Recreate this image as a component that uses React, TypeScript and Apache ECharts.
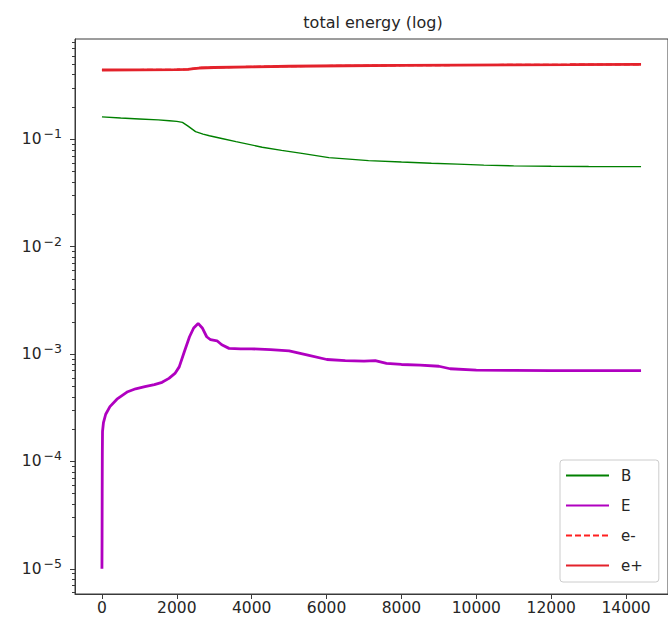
import React, { useEffect, useRef } from "react";
import * as echarts from "echarts";

// ---- data ----
const xTicks = [0, 2000, 4000, 6000, 8000, 10000, 12000, 14000];
const yMajorTicks = [1e-5, 1e-4, 1e-3, 1e-2, 1e-1];
const yMajorExponents = ["5", "4", "3", "2", "1"];
const yMinorMultipliers = [2, 3, 4, 5, 6, 7, 8, 9];
const yMinorDecades = [1e-6, 1e-5, 1e-4, 1e-3, 1e-2, 1e-1];

const bSteps = [0, 500, 1000, 1500, 1800, 2000, 2150, 2300, 2500, 2700, 2870, 3200, 3580, 4280, 4800, 5340, 6060, 6600, 7120, 8000, 8800, 9500, 10200, 11000, 12000, 13000, 14400];
const bValues = [0.162, 0.158, 0.155, 0.152, 0.149, 0.147, 0.144, 0.133, 0.118, 0.112, 0.108, 0.102, 0.0953, 0.0845, 0.079, 0.074, 0.0676, 0.0655, 0.0634, 0.0615, 0.060, 0.0588, 0.0575, 0.0566, 0.0561, 0.0558, 0.0557];

const eSteps = [0, 3, 6, 10, 15, 40, 100, 213, 400, 688, 900, 1147, 1400, 1606, 1789, 1950, 2064, 2200, 2339, 2450, 2569, 2680, 2798, 2900, 3073, 3200, 3394, 3700, 3991, 4500, 5000, 5500, 6009, 6500, 7000, 7300, 7600, 8000, 8500, 9000, 9300, 10000, 11000, 12000, 13000, 14400];
const eValues = [1.0e-5, 2.0e-5, 5.0e-5, 1.2e-4, 1.9e-4, 2.3e-4, 2.75e-4, 3.24e-4, 3.8e-4, 4.46e-4, 4.75e-4, 4.97e-4, 5.2e-4, 5.46e-4, 5.94e-4, 6.6e-4, 7.6e-4, 1.05e-3, 1.45e-3, 1.75e-3, 1.93e-3, 1.75e-3, 1.45e-3, 1.36e-3, 1.33e-3, 1.22e-3, 1.13e-3, 1.12e-3, 1.12e-3, 1.1e-3, 1.07e-3, 9.8e-4, 8.9e-4, 8.7e-4, 8.6e-4, 8.7e-4, 8.2e-4, 8.0e-4, 7.9e-4, 7.7e-4, 7.3e-4, 7.1e-4, 7.05e-4, 7.0e-4, 7.0e-4, 7.0e-4];

const eMinusSteps = [0, 1000, 2000, 2300, 2450, 2600, 3000, 4000, 5000, 6500, 8000, 9500, 11000, 12500, 14400];
const eMinusValues = [0.443, 0.444, 0.446, 0.449, 0.456, 0.463, 0.468, 0.475, 0.480, 0.485, 0.489, 0.492, 0.495, 0.497, 0.499];

const ePlusSteps = [0, 1000, 2000, 2300, 2450, 2600, 3000, 4000, 5000, 6500, 8000, 9500, 11000, 12500, 14400];
const ePlusValues = [0.443, 0.444, 0.446, 0.448, 0.455, 0.462, 0.467, 0.474, 0.480, 0.485, 0.489, 0.492, 0.495, 0.497, 0.500];

const FONT = "DejaVu Sans";
const TEXT = "#262626";
const FRAME = "#3a3a3a";
const TICK_FONT = 15.5;

export default function App() {
  const ref = useRef<HTMLDivElement>(null);

  useEffect(() => {
    if (!ref.current) return;
    const chart = echarts.init(ref.current, null, { renderer: "svg" });

    const yMin = Math.pow(10, -5.235);
    const yMax = Math.pow(10, -0.065);
    const minorTicks: number[] = [];
    yMinorDecades.forEach((d) =>
      yMinorMultipliers.forEach((m) => {
        const v = d * m;
        if (v > yMin && v < yMax) minorTicks.push(v);
      })
    );

    const pairs = (xs: number[], ys: number[]) => xs.map((x, i) => [x, ys[i]]);

    const labelFor = (v: number) => {
      for (let i = 0; i < yMajorTicks.length; i++) {
        if (Math.abs(Math.log10(v) - Math.log10(yMajorTicks[i])) < 1e-6)
          return "{a|10}{b|\u2212" + yMajorExponents[i] + "}";
      }
      return "";
    };

    chart.setOption({
      animation: false,
      backgroundColor: "#ffffff",
      graphic: [
        {
          type: "text",
          x: 373,
          y: 22,
          style: {
            text: "total energy (log)",
            fontFamily: FONT,
            fontSize: 16,
            fill: TEXT,
            textAlign: "center",
            textVerticalAlign: "middle",
          },
        },
      ],
      grid: {
        left: 75,
        right: -3,
        top: 39,
        bottom: 39,
        show: true,
        borderColor: FRAME,
        borderWidth: 1,
        backgroundColor: "transparent",
      },
      legend: {
        orient: "vertical",
        left: 560,
        top: 460,
        itemWidth: 43,
        itemHeight: 16,
        itemGap: 15,
        padding: [8, 16, 9, 5],
        borderColor: "#cccccc",
        borderWidth: 1,
        borderRadius: 3,
        backgroundColor: "rgba(255,255,255,0.8)",
        itemStyle: { opacity: 0 },
        textStyle: { fontFamily: FONT, fontSize: 15, color: TEXT, padding: [0, 0, 0, 7] },
        data: ["B", "E", "e-", "e+"],
      },
      xAxis: {
        type: "value",
        min: -720,
        max: 15120,
        splitLine: { show: false },
        axisLine: { show: true, onZero: false, lineStyle: { color: FRAME, width: 1 } },
        axisTick: { show: true, customValues: xTicks, length: 5, lineStyle: { color: FRAME, width: 1 } },
        axisLabel: {
          customValues: xTicks,
          formatter: (v: number) => String(v),
          fontFamily: FONT,
          fontSize: TICK_FONT,
          color: TEXT,
          margin: 6,
        },
      },
      yAxis: [
        {
          type: "log",
          logBase: 10,
          min: yMin,
          max: yMax,
          position: "left",
          splitLine: { show: false },
          axisLine: { show: true, onZero: false, lineStyle: { color: FRAME, width: 1 } },
          axisTick: { show: true, customValues: yMajorTicks, length: 5, lineStyle: { color: FRAME, width: 1 } },
          axisLabel: {
            customValues: yMajorTicks,
            formatter: (v: number) => labelFor(v),
            margin: 13,
            rich: {
              a: { fontFamily: FONT, fontSize: TICK_FONT, color: TEXT },
              b: { fontFamily: FONT, fontSize: 12.5, color: TEXT, padding: [0, 0, 11, 2] },
            },
          },
        },
        {
          type: "log",
          logBase: 10,
          min: yMin,
          max: yMax,
          position: "left",
          splitLine: { show: false },
          axisLine: { show: false, onZero: false },
          axisLabel: { show: false },
          axisTick: { show: true, customValues: minorTicks, length: 3, lineStyle: { color: FRAME, width: 1 } },
        },
      ],
      series: [
        {
          name: "B",
          type: "line",
          yAxisIndex: 0,
          data: pairs(bSteps, bValues),
          symbol: "none",
          color: "#008000",
          lineStyle: { color: "#008000", width: 1.4 },
          z: 2,
        },
        {
          name: "E",
          type: "line",
          yAxisIndex: 0,
          data: pairs(eSteps, eValues),
          symbol: "none",
          color: "#b000c0",
          lineStyle: { color: "#b000c0", width: 2.8 },
          z: 3,
        },
        {
          name: "e-",
          type: "line",
          yAxisIndex: 0,
          data: pairs(eMinusSteps, eMinusValues),
          symbol: "none",
          color: "#ff2020",
          lineStyle: { color: "#ff2020", width: 2, type: [6, 3] },
          z: 4,
        },
        {
          name: "e+",
          type: "line",
          yAxisIndex: 0,
          data: pairs(ePlusSteps, ePlusValues),
          symbol: "none",
          color: "#e3222b",
          lineStyle: { color: "#e3222b", width: 2.8 },
          z: 5,
        },
      ],
    });

    return () => chart.dispose();
  }, []);

  return (
    <div
      ref={ref}
      style={{ position: "fixed", left: 0, top: 0, width: 668, height: 633, background: "#fff" }}
    />
  );
}
